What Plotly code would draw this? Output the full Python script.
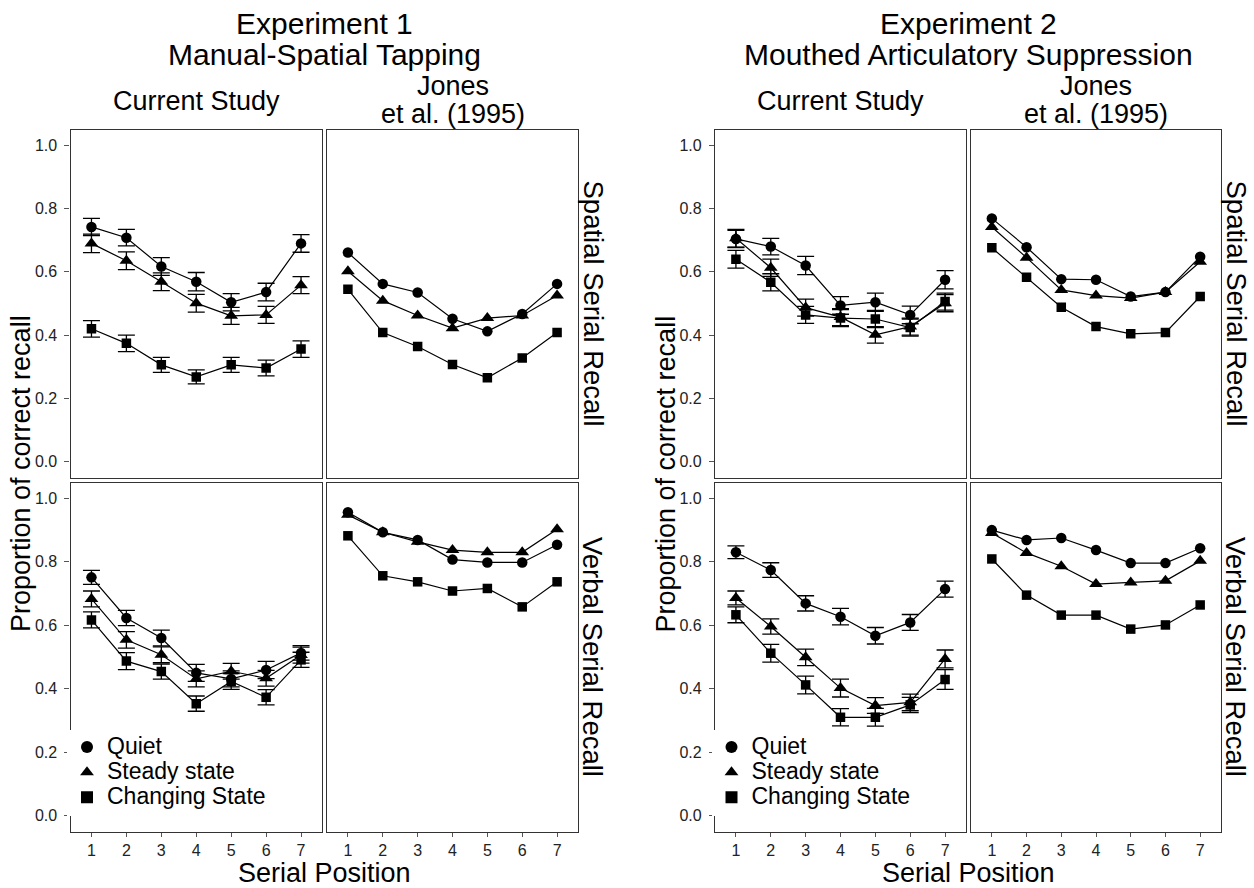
import plotly.graph_objects as go

# ---------------- data ----------------
serial_positions = [1, 2, 3, 4, 5, 6, 7]
conditions = ["Quiet", "Steady state", "Changing State"]
y_tick_vals = [0.0, 0.2, 0.4, 0.6, 0.8, 1.0]
y_tick_text = ["0.0", "0.2", "0.4", "0.6", "0.8", "1.0"]
x_tick_text = ["1", "2", "3", "4", "5", "6", "7"]

# Experiment 1 - current study - spatial serial recall
e1_cur_spa_quiet = [0.742, 0.708, 0.617, 0.569, 0.504, 0.536, 0.690]
e1_cur_spa_steady = [0.690, 0.635, 0.569, 0.501, 0.461, 0.464, 0.558]
e1_cur_spa_changing = [0.420, 0.374, 0.306, 0.268, 0.306, 0.296, 0.356]
e1_cur_spa_quiet_se = [0.027, 0.026, 0.028, 0.029, 0.027, 0.028, 0.028]
e1_cur_spa_steady_se = [0.029, 0.028, 0.028, 0.028, 0.027, 0.027, 0.027]
e1_cur_spa_changing_se = [0.026, 0.026, 0.024, 0.022, 0.024, 0.025, 0.026]

# Experiment 1 - Jones et al. (1995) - spatial
e1_jon_spa_quiet = [0.661, 0.562, 0.535, 0.452, 0.412, 0.467, 0.562]
e1_jon_spa_steady = [0.602, 0.509, 0.462, 0.422, 0.454, 0.462, 0.525]
e1_jon_spa_changing = [0.545, 0.408, 0.364, 0.307, 0.265, 0.328, 0.408]

# Experiment 1 - current study - verbal serial recall
e1_cur_ver_quiet = [0.751, 0.623, 0.560, 0.450, 0.431, 0.459, 0.513]
e1_cur_ver_steady = [0.683, 0.554, 0.507, 0.431, 0.455, 0.433, 0.506]
e1_cur_ver_changing = [0.617, 0.487, 0.454, 0.353, 0.423, 0.373, 0.491]
e1_cur_ver_quiet_se = [0.022, 0.024, 0.025, 0.027, 0.025, 0.027, 0.023]
e1_cur_ver_steady_se = [0.025, 0.026, 0.025, 0.025, 0.025, 0.025, 0.025]
e1_cur_ver_changing_se = [0.025, 0.027, 0.024, 0.024, 0.025, 0.024, 0.024]

# Experiment 1 - Jones et al. (1995) - verbal
e1_jon_ver_quiet = [0.956, 0.893, 0.869, 0.807, 0.798, 0.798, 0.854]
e1_jon_ver_steady = [0.948, 0.893, 0.863, 0.837, 0.830, 0.830, 0.903]
e1_jon_ver_changing = [0.882, 0.756, 0.737, 0.708, 0.716, 0.658, 0.737]

# Experiment 2 - current study - spatial
e2_cur_spa_quiet = [0.704, 0.680, 0.620, 0.494, 0.504, 0.464, 0.575]
e2_cur_spa_steady = [0.706, 0.613, 0.487, 0.457, 0.401, 0.427, 0.501]
e2_cur_spa_changing = [0.640, 0.567, 0.464, 0.454, 0.451, 0.424, 0.506]
e2_cur_spa_quiet_se = [0.027, 0.026, 0.029, 0.028, 0.029, 0.028, 0.029]
e2_cur_spa_steady_se = [0.028, 0.027, 0.027, 0.027, 0.026, 0.027, 0.027]
e2_cur_spa_changing_se = [0.028, 0.027, 0.027, 0.027, 0.027, 0.027, 0.027]

# Experiment 2 - Jones et al. (1995) - spatial
e2_jon_spa_quiet = [0.769, 0.678, 0.577, 0.575, 0.522, 0.536, 0.648]
e2_jon_spa_steady = [0.742, 0.645, 0.543, 0.525, 0.517, 0.536, 0.632]
e2_jon_spa_changing = [0.676, 0.583, 0.488, 0.427, 0.404, 0.408, 0.522]

# Experiment 2 - current study - verbal
e2_cur_ver_quiet = [0.830, 0.774, 0.669, 0.627, 0.567, 0.609, 0.714]
e2_cur_ver_steady = [0.686, 0.596, 0.499, 0.402, 0.347, 0.357, 0.494]
e2_cur_ver_changing = [0.633, 0.512, 0.412, 0.310, 0.310, 0.349, 0.429]
e2_cur_ver_quiet_se = [0.020, 0.023, 0.024, 0.026, 0.026, 0.025, 0.025]
e2_cur_ver_steady_se = [0.022, 0.024, 0.026, 0.028, 0.025, 0.026, 0.028]
e2_cur_ver_changing_se = [0.025, 0.028, 0.028, 0.027, 0.028, 0.024, 0.031]

# Experiment 2 - Jones et al. (1995) - verbal
e2_jon_ver_quiet = [0.900, 0.869, 0.875, 0.837, 0.796, 0.796, 0.843]
e2_jon_ver_steady = [0.891, 0.828, 0.786, 0.730, 0.735, 0.740, 0.803]
e2_jon_ver_changing = [0.809, 0.695, 0.632, 0.632, 0.588, 0.601, 0.664]

# ---------------- layout helpers ----------------
W, H = 1254, 888
FONT = "Liberation Sans, Arial, Helvetica, sans-serif"


def fx(px):
    return px / W


def fy(py):
    return 1 - py / H


col_px = {"e1_cur": (70.5, 322), "e1_jon": (327, 578),
          "e2_cur": (715, 966), "e2_jon": (971, 1221)}
row_px = {"spa": (129.5, 477.5), "ver": (482.5, 831.5)}

symbols = {"Quiet": "circle", "Steady state": "triangle-up", "Changing State": "square"}
sizes = {"Quiet": 10.5, "Steady state": 12, "Changing State": 9.5}

panels = [
    ("e1_cur", "spa", [e1_cur_spa_quiet, e1_cur_spa_steady, e1_cur_spa_changing],
     [e1_cur_spa_quiet_se, e1_cur_spa_steady_se, e1_cur_spa_changing_se], None),
    ("e1_jon", "spa", [e1_jon_spa_quiet, e1_jon_spa_steady, e1_jon_spa_changing], None, None),
    ("e1_cur", "ver", [e1_cur_ver_quiet, e1_cur_ver_steady, e1_cur_ver_changing],
     [e1_cur_ver_quiet_se, e1_cur_ver_steady_se, e1_cur_ver_changing_se], "legend"),
    ("e1_jon", "ver", [e1_jon_ver_quiet, e1_jon_ver_steady, e1_jon_ver_changing], None, None),
    ("e2_cur", "spa", [e2_cur_spa_quiet, e2_cur_spa_steady, e2_cur_spa_changing],
     [e2_cur_spa_quiet_se, e2_cur_spa_steady_se, e2_cur_spa_changing_se], None),
    ("e2_jon", "spa", [e2_jon_spa_quiet, e2_jon_spa_steady, e2_jon_spa_changing], None, None),
    ("e2_cur", "ver", [e2_cur_ver_quiet, e2_cur_ver_steady, e2_cur_ver_changing],
     [e2_cur_ver_quiet_se, e2_cur_ver_steady_se, e2_cur_ver_changing_se], "legend2"),
    ("e2_jon", "ver", [e2_jon_ver_quiet, e2_jon_ver_steady, e2_jon_ver_changing], None, None),
]

fig = go.Figure()
layout_axes = {}

for i, (col, row, series, ses, legend_name) in enumerate(panels, start=1):
    xa = "x" if i == 1 else f"x{i}"
    ya = "y" if i == 1 else f"y{i}"
    xkey = "xaxis" if i == 1 else f"xaxis{i}"
    ykey = "yaxis" if i == 1 else f"yaxis{i}"
    x0, x1 = col_px[col]
    ytop, ybot = row_px[row]
    is_bottom = row == "ver"
    is_left = col.endswith("cur")

    # connecting lines
    for cond, vals in zip(conditions, series):
        fig.add_trace(go.Scatter(
            x=serial_positions, y=vals, mode="lines",
            line=dict(color="black", width=1.2),
            xaxis=xa, yaxis=ya, showlegend=False, hoverinfo="skip"))
    # markers (with error bars for the current study)
    for k, (cond, vals) in enumerate(zip(conditions, series)):
        err = None
        if ses is not None:
            err = dict(type="data", array=ses[k], color="black",
                       thickness=1.3, width=8.5)
        fig.add_trace(go.Scatter(
            x=serial_positions, y=vals, mode="markers",
            name=f'<span style="font-size:23px">{cond}</span>',
            marker=dict(symbol=symbols[cond], size=sizes[cond], color="black"),
            error_y=err, xaxis=xa, yaxis=ya,
            showlegend=legend_name is not None,
            legend=legend_name if legend_name else "legend"))

    layout_axes[xkey] = dict(
        domain=[fx(x0), fx(x1)], range=[0.4, 7.6], anchor=ya,
        tickmode="array", tickvals=serial_positions, ticktext=x_tick_text,
        showticklabels=is_bottom, ticks="outside" if is_bottom else "",
        ticklen=4, tickwidth=1, tickcolor="#555",
        tickfont=dict(size=16, color="#222", family=FONT),
        showgrid=False, zeroline=False,
        showline=True, mirror=True, linecolor="#333", linewidth=1.3)
    layout_axes[ykey] = dict(
        domain=[fy(ybot), fy(ytop)], range=[-0.05, 1.05], anchor=xa,
        tickmode="array", tickvals=y_tick_vals, ticktext=y_tick_text,
        showticklabels=is_left, ticks="outside" if is_left else "",
        ticklen=5, tickwidth=1, tickcolor="#555", ticklabelstandoff=4,
        tickfont=dict(size=16, color="#222", family=FONT),
        showgrid=False, zeroline=False,
        showline=True, mirror=True, linecolor="#333", linewidth=1.3)

annotations = []


def ann(text, x, y, size, angle=0):
    annotations.append(dict(
        text=text, x=fx(x), y=fy(y), xref="paper", yref="paper",
        xanchor="center", yanchor="middle", showarrow=False, textangle=angle,
        font=dict(size=size, color="black", family=FONT)))


for (cx0, cx1), (jx0, jx1), exp_line1, exp_line2 in [
        (col_px["e1_cur"], col_px["e1_jon"], "Experiment 1", "Manual-Spatial Tapping"),
        (col_px["e2_cur"], col_px["e2_jon"], "Experiment 2", "Mouthed Articulatory Suppression")]:
    gc = (cx0 + jx1) / 2
    ann(exp_line1, gc, 23, 30)
    ann(exp_line2, gc, 54, 30)
    ann("Current Study", (cx0 + cx1) / 2, 101, 27)
    ann("Jones", (jx0 + jx1) / 2, 86, 27)
    ann("et al. (1995)", (jx0 + jx1) / 2, 114, 27)
    ann("Spatial Serial Recall", jx1 + 15, sum(row_px["spa"]) / 2, 27.5, 90)
    ann("Verbal Serial Recall", jx1 + 15, sum(row_px["ver"]) / 2, 27.5, 90)
    ann("Proportion of correct recall", cx0 - 49.5, 474, 27, -90)
    ann("Serial Position", gc, 873, 27)

legend_style = dict(
    bgcolor="white", borderwidth=0, xanchor="left", yanchor="top",
    font=dict(size=17, color="black", family=FONT),
    itemsizing="constant", tracegroupgap=0)

fig.update_layout(
    width=W, height=H, margin=dict(l=0, r=0, t=0, b=0),
    paper_bgcolor="white", plot_bgcolor="white",
    font=dict(family=FONT, color="black"),
    annotations=annotations,
    legend=dict(x=fx(67), y=fy(729.5), **legend_style),
    legend2=dict(x=fx(711.5), y=fy(729.5), **legend_style),
    **layout_axes)

fig.write_html("out.html",
               config={"displayModeBar": False},
               post_script="document.body.style.margin='0';")
